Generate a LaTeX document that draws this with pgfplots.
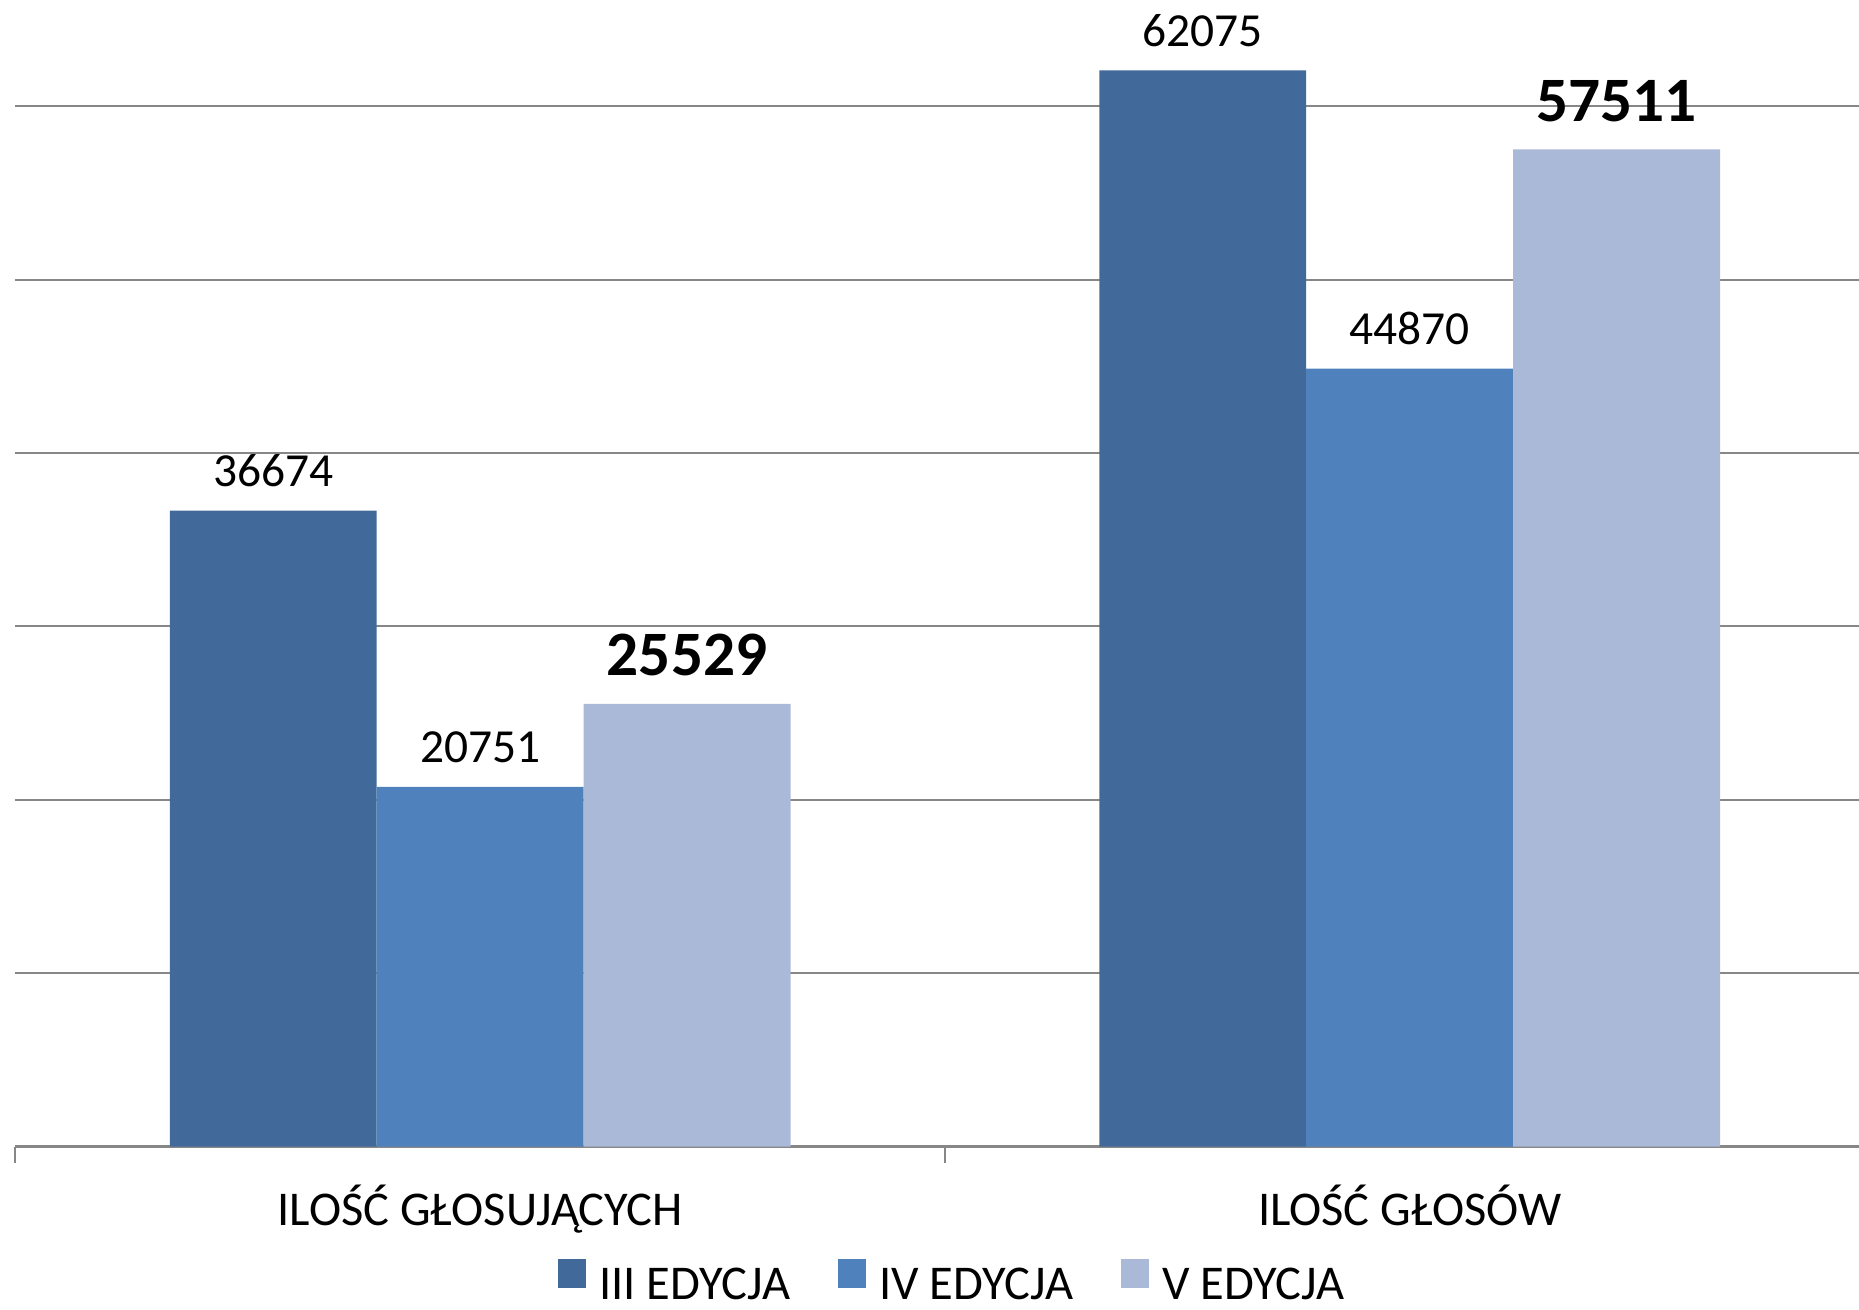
\documentclass[border=0pt]{standalone}
\usepackage{fontspec}
\setmainfont{Carlito}
\usepackage{pgfplots}
\pgfplotsset{compat=1.18}
\definecolor{cA}{HTML}{416A9B}
\definecolor{cB}{HTML}{4F81BD}
\definecolor{cC}{HTML}{AAB9D7}
\definecolor{gridgray}{HTML}{878787}
\begin{document}
\begin{tikzpicture}
\begin{axis}[
  scale only axis,
  width=18.436cm, height=11.465cm,
  at={(0,0)}, anchor=south west,
  xmin=-0.5, xmax=1.4834,
  ymin=0, ymax=66131,
  ybar=0pt, bar width=0.2226,
  every axis plot post/.append style={legend image code/.code={\fill[##1] (0cm,-0.01cm) rectangle (0.28cm,0.28cm); \path (0.34cm,0cm);}},
  axis x line*=bottom, axis y line*=left,
  x axis line style={gridgray, line width=0.6pt},
  y axis line style={draw=none},
  ytick={10000,20000,30000,40000,50000,60000},
  yticklabels={},
  ymajorgrids, grid style={gridgray, line width=0.6pt},
  major y tick style={draw=none},
  xtick={0,1},
  xticklabels={ILOŚĆ GŁOSUJĄCYCH, ILOŚĆ GŁOSÓW},
  major x tick style={draw=none},
  major tick length=0pt,
  xticklabel style={font=\fontsize{13.8}{16}\selectfont, anchor=base, yshift=-0.79cm},
  extra x ticks={-0.5,0.5},
  extra x tick labels={},
  extra x tick style={major tick length=0.16cm, tick align=outside, major x tick style={draw=gridgray, line width=0.6pt}, grid=none},
  /pgf/number format/.cd, 1000 sep={}, assume math mode=true, fixed, precision=0, /pgfplots/.cd,
  clip=false,
  legend columns=3,
  legend style={at={(0.5095,-0.1210)}, anchor=center, draw=none, fill=none,
    font=\fontsize{13.8}{16}\selectfont,
    /tikz/every even column/.append style={column sep=0.41cm}},
]
\addplot[fill=cA, draw=none, nodes near coords, every node near coord/.append style={font=\fontsize{13.5}{16}\selectfont, anchor=base, yshift=0.24cm, black}]
  coordinates {(0,36674) (1,62075)};
\addlegendentry{III EDYCJA}
\addplot[fill=cB, draw=none, nodes near coords, every node near coord/.append style={font=\fontsize{13.5}{16}\selectfont, anchor=base, yshift=0.24cm, black}]
  coordinates {(0,20751) (1,44870)};
\addlegendentry{IV EDYCJA}
\addplot[fill=cC, draw=none, nodes near coords, every node near coord/.append style={font=\fontsize{18}{21}\selectfont\bfseries, anchor=base, yshift=0.28cm, black}]
  coordinates {(0,25529) (1,57511)};
\addlegendentry{V EDYCJA}
\end{axis}
\pgfresetboundingbox
\path[use as bounding box] (-0.154cm,-1.625cm) rectangle (18.436cm,11.465cm);
\end{tikzpicture}
\end{document}
